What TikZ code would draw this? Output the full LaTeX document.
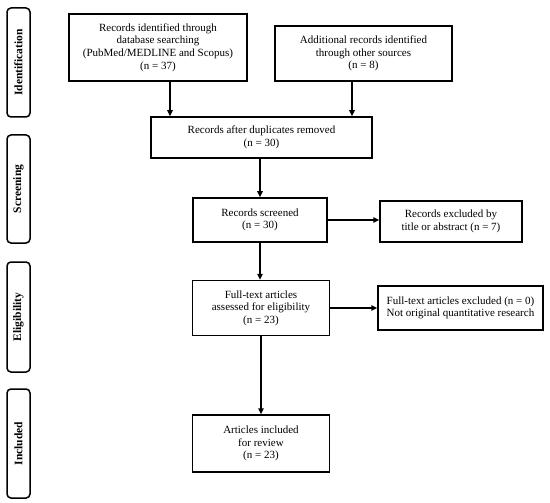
\documentclass[tikz,border=0pt]{standalone}
\usepackage{fontspec}
\setmainfont{Liberation Serif}
\usetikzlibrary{arrows.meta}
\begin{document}
\begin{tikzpicture}[x=1pt,y=-1pt,
  box/.style={draw, line width=1.5pt, rectangle, inner sep=0pt, align=center,
    font=\fontsize{11}{12.6}\selectfont},
  phase/.style={draw, line width=1.5pt, rounded corners=4pt, inner sep=0pt,
    minimum width=23pt, font=\bfseries\fontsize{11.5}{12}\selectfont},
  arr/.style={-{Triangle[length=6pt,width=5.5pt]}, line width=1.5pt}]
\useasboundingbox (0,0) rectangle (550,503);
% phase labels
\node[phase, minimum height=109pt] (pid) at (18.5,62.5) {\rotatebox{90}{Identification}};
\node[phase, minimum height=108pt] (psc) at (18.5,189) {\rotatebox{90}{Screening}};
\node[phase, minimum height=110pt] (pel) at (18.5,317) {\rotatebox{90}{Eligibility}};
\node[phase, minimum height=109pt] (pin) at (18.5,443.5) {\rotatebox{90}{Included}};
% boxes
\node[box, minimum width=178pt, minimum height=67pt] (b1) at (158,47.5)
  {Records identified through\\database searching\\(PubMed/MEDLINE and Scopus)\\(n = 37)};
\node[box, minimum width=177pt, minimum height=55pt] (b2) at (363.5,53.5)
  {Additional records identified\\through other sources\\(n = 8)};
\node[box, minimum width=221pt, minimum height=41pt] (b3) at (261.5,137.5)
  {Records after duplicates removed\\(n = 30)};
\node[box, minimum width=134pt, minimum height=44pt] (b4) at (260,220)
  {Records screened\\(n = 30)};
\node[box, minimum width=142pt, minimum height=41pt] (b5) at (451,221.5)
  {Records excluded by\\title or abstract (n = 7)};
\node[box, minimum width=137pt, minimum height=55pt] (b6) at (261,308)
  {Full-text articles\\assessed for eligibility\\(n = 23)};
\node[box, minimum width=165pt, minimum height=44pt] (b7) at (460.5,308)
  {Full-text articles excluded (n = 0)\\Not original quantitative research};
\node[box, minimum width=137pt, minimum height=57pt] (b8) at (261,443.5)
  {Articles included\\for review\\(n = 23)};
% arrows
\draw[arr] ([xshift=12pt]b1.south) -- ([xshift=12pt]b1.south |- b3.north);
\draw[arr] ([xshift=-11.5pt]b2.south) -- ([xshift=-11.5pt]b2.south |- b3.north);
\draw[arr] (b3.south -| b4.north) -- (b4.north);
\draw[arr] (b4.east) -- (b4.east -| b5.west);
\draw[arr] (b4.south) -- (b4.south |- b6.north);
\draw[arr] (b6.east) -- (b6.east -| b7.west);
\draw[arr] (b6.south) -- (b8.north);
\end{tikzpicture}
\end{document}
